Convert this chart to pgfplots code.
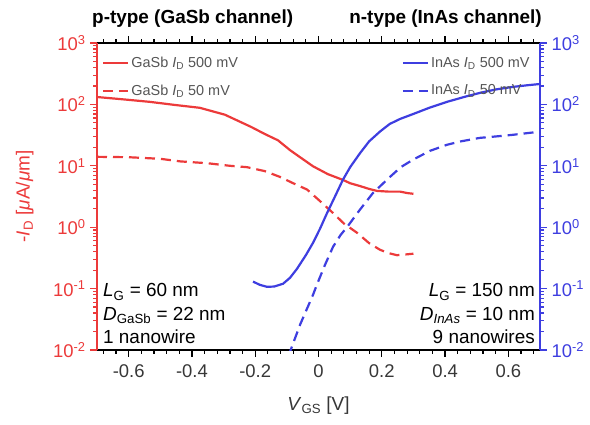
\documentclass[border=0pt]{standalone}
\usepackage{fontspec}
\setmainfont{Liberation Sans}
\usepackage{pgfplots}
\pgfplotsset{compat=1.18}

\definecolor{pred}{RGB}{236,58,58}
\definecolor{nblue}{RGB}{62,62,224}
\definecolor{txtgray}{RGB}{55,55,55}
\definecolor{leggray}{RGB}{85,85,85}
\newcommand\fs[1]{\fontsize{#1}{#1}\selectfont}

% transfer characteristics, p-type GaSb branch (-I_D, uA/um)
\pgfplotstableread{
x y
-0.70 132
-0.611 120
-0.533 110
-0.454 98
-0.375 88
-0.296 68
-0.213 43
-0.17 33
-0.128 26
-0.09 18
-0.06 14
-0.017 9.8
0.03 7.3
0.077 5.9
0.10 5.2
0.13 4.7
0.16 4.2
0.185 3.9
0.22 3.8
0.258 3.8
0.28 3.6
0.30 3.5
}\gasbhigh
\pgfplotstableread{
x y
-0.70 14
-0.60 13.8
-0.50 13
-0.437 11.8
-0.35 11
-0.28 10
-0.226 9.5
-0.17 8.2
-0.122 6.6
-0.08 5.2
-0.036 4.1
0.00 2.8
0.046 1.7
0.08 1.15
0.122 0.81
0.16 0.55
0.194 0.43
0.22 0.38
0.248 0.35
0.275 0.36
0.30 0.37
}\gasblow
% n-type InAs branch
\pgfplotstableread{
x y
-0.207 0.13
-0.185 0.115
-0.163 0.107
-0.14 0.108
-0.112 0.12
-0.09 0.15
-0.068 0.21
-0.04 0.35
-0.017 0.56
0.005 0.95
0.027 1.7
0.05 3.0
0.077 5.9
0.10 9.5
0.131 16
0.16 25
0.194 36
0.225 48
0.258 58
0.30 70
0.35 88
0.406 110
0.46 132
0.51 154
0.56 175
0.615 193
0.66 205
0.70 215
}\inashigh
\pgfplotstableread{
x y
-0.095 0.008
-0.058 0.026
-0.017 0.08
-0.005 0.116
0.02 0.24
0.046 0.48
0.07 0.75
0.09 1.0
0.131 1.93
0.172 3.6
0.226 6.6
0.26 9.5
0.299 12.6
0.352 17.5
0.406 22
0.45 25
0.51 28.5
0.574 30.5
0.615 32
0.70 36
}\inaslow

\tikzset{dashline/.style={dash pattern=on 10bp off 6bp}}

\begin{document}
\begin{tikzpicture}

% frame: gate-voltage axis at bottom and top, coloured current spines
\begin{axis}[
  scale only axis, width=443bp, height=307bp,
  xmin=-0.7, xmax=0.7, ymode=log, ymin=1e-2, ymax=1e3,
  clip=false,
  axis line style={black, line width=1.5bp},
  ymajorticks=false, yminorticks=false,
  tick align=outside, tickwidth=7bp, subtickwidth=4bp,
  every tick/.style={draw=black, line width=1.2bp},
  xtick pos=both,
  xtick={-0.6,-0.4,-0.2,0,0.2,0.4,0.6},
  xticklabels={-0.6,-0.4,-0.2,0,0.2,0.4,0.6},
  xticklabel pos=bottom,
  xticklabel style={font=\fs{18.5}, text=txtgray, yshift=-4bp},
  xlabel={\textit{V}\textsubscript{GS} [V]},
  xlabel style={font=\fs{19}, text=txtgray, at={(axis description cs:0.5,0)}, anchor=base, yshift=-60bp},
]
% gate-voltage ticks, bottom and top (7bp major, 4bp minor outward)
\pgfplotsinvokeforeach{-0.6,-0.4,-0.2,0,0.2,0.4,0.6}{
  \draw[black, line width=1.2bp] (axis cs:#1,0.01) -- (axis cs:#1,0.0077);
  \draw[black, line width=1.2bp] (axis cs:#1,1000) -- (axis cs:#1,1300);
}
\pgfplotsinvokeforeach{-0.68,-0.64,-0.56,-0.52,-0.48,-0.44,-0.36,-0.32,-0.28,-0.24,-0.16,-0.12,-0.08,-0.04,0.04,0.08,0.12,0.16,0.24,0.28,0.32,0.36,0.44,0.48,0.52,0.56,0.64,0.68}{
  \draw[black, line width=1.2bp] (axis cs:#1,0.01) -- (axis cs:#1,0.0086);
  \draw[black, line width=1.2bp] (axis cs:#1,1000) -- (axis cs:#1,1160);
}
% current spines with decade and sub-decade ticks
\draw[pred, line width=1.5bp] (axis cs:-0.7,0.01) -- (axis cs:-0.7,1000);
\draw[nblue, line width=1.5bp] (axis cs:0.7,0.01) -- (axis cs:0.7,1000);
\pgfplotsinvokeforeach{0.01,0.1,1,10,100,1000}{
  \draw[pred, line width=1.2bp] (axis cs:-0.7,#1) -- (axis cs:-0.722,#1);
  \draw[nblue, line width=1.2bp] (axis cs:0.7,#1) -- (axis cs:0.722,#1);
}
\pgfplotsinvokeforeach{0.02,0.03,0.04,0.05,0.06,0.07,0.08,0.09,0.2,0.3,0.4,0.5,0.6,0.7,0.8,0.9,2,3,4,5,6,7,8,9,20,30,40,50,60,70,80,90,200,300,400,500,600,700,800,900}{
  \draw[pred, line width=1.2bp] (axis cs:-0.7,#1) -- (axis cs:-0.7126,#1);
  \draw[nblue, line width=1.2bp] (axis cs:0.7,#1) -- (axis cs:0.7126,#1);
}
\end{axis}

% p-type branch, left axis
\begin{axis}[
  scale only axis, width=443bp, height=307bp,
  xmin=-0.7, xmax=0.7, ymode=log, ymin=1e-2, ymax=1e3,
  axis line style={draw=none},
  xmajorticks=false, xminorticks=false, yminorticks=false,
  tick align=outside, tickwidth=7bp,
  every tick/.style={draw=pred, line width=1.2bp},
  ytick pos=left, yticklabel pos=left,
  ytick={1e-2,1e-1,1,10,100,1000},
  yticklabels={10\textsuperscript{-2},10\textsuperscript{-1},10\textsuperscript{0},10\textsuperscript{1},10\textsuperscript{2},10\textsuperscript{3}},
  yticklabel style={font=\fs{18.5}, text=pred, xshift=-1bp},
  ylabel={-\textit{I}\textsubscript{D} [{\itshape μ}A/{\itshape μ}m]},
  ylabel style={font=\fs{19}, text=pred, at={(axis description cs:-0.163,0.5)}, anchor=center},
  legend cell align=left,
  legend image code/.code={\draw[#1, line width=2.2bp] (0bp,0bp) -- (25bp,0bp);},
  legend style={at={(rel axis cs:0.0045,0.967)}, anchor=north west,
    draw=none, fill=none, font=\fs{14.5}, text=leggray, row sep=12bp},
]
\addplot[pred, line width=2.2bp, no markers] table {\gasbhigh};
\addlegendentry{GaSb \textit{I}\textsubscript{D} 500 mV}
\addplot[pred, line width=2.2bp, no markers, dashline] table {\gasblow};
\addlegendentry{GaSb \textit{I}\textsubscript{D} 50 mV}
\end{axis}

% n-type branch, right axis
\begin{axis}[
  scale only axis, width=443bp, height=307bp,
  xmin=-0.7, xmax=0.7, ymode=log, ymin=1e-2, ymax=1e3,
  axis line style={draw=none},
  xmajorticks=false, xminorticks=false, yminorticks=false,
  tick align=outside, tickwidth=7bp,
  every tick/.style={draw=nblue, line width=1.2bp},
  ytick pos=right, yticklabel pos=right,
  ytick={1e-2,1e-1,1,10,100,1000},
  yticklabels={10\textsuperscript{-2},10\textsuperscript{-1},10\textsuperscript{0},10\textsuperscript{1},10\textsuperscript{2},10\textsuperscript{3}},
  yticklabel style={font=\fs{18.5}, text=nblue, xshift=1bp},
  legend cell align=left,
  legend image code/.code={\draw[#1, line width=2.2bp] (0bp,0bp) -- (25bp,0bp);},
  legend style={at={(rel axis cs:0.681,0.967)}, anchor=north west,
    draw=none, fill=none, font=\fs{14.5}, text=leggray, row sep=12bp},
]
\addplot[nblue, line width=2.2bp, no markers] table {\inashigh};
\addlegendentry{InAs \textit{I}\textsubscript{D} 500 mV}
\addplot[nblue, line width=2.2bp, no markers, dashline] table {\inaslow};
\addlegendentry{InAs \textit{I}\textsubscript{D} 50 mV}
\end{axis}

% panel headings
\node[anchor=base west, font=\bfseries\fs{19}, inner sep=0pt] at (-5bp,326bp) {p-type (GaSb channel)};
\node[anchor=base east, font=\bfseries\fs{19}, inner sep=0pt] at (445bp,326bp) {n-type (InAs channel)};

% device parameters
\begin{scope}[every node/.style={font=\fs{19}, inner sep=0pt}]
\node[anchor=base west] at (6bp,53bp) {\textit{L}\textsubscript{G} = 60 nm};
\node[anchor=base west] at (6bp,30bp) {\textit{D}\textsubscript{GaSb} = 22 nm};
\node[anchor=base west] at (6bp,7bp) {1 nanowire};
\node[anchor=base east] at (438bp,53bp) {\textit{L}\textsubscript{G} = 150 nm};
\node[anchor=base east] at (438bp,30bp) {\textit{D}\textsubscript{\textit{InAs}} = 10 nm};
\node[anchor=base east] at (438bp,7bp) {9 nanowires};
\end{scope}

% page frame
\path (-97bp,-75bp) rectangle (493bp,350bp);
\end{tikzpicture}
\end{document}
